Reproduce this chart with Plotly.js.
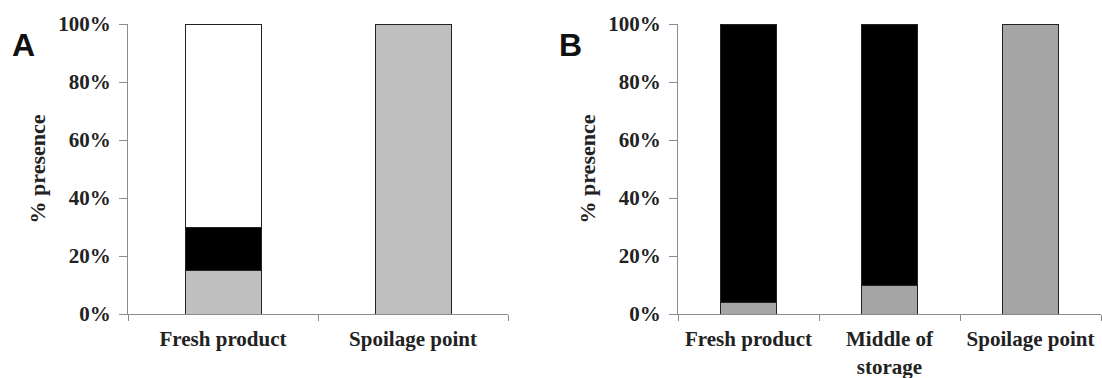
<!DOCTYPE html>
<html><head><meta charset="utf-8">
<script src="https://cdn.plot.ly/plotly-3.0.1.min.js"></script>
<style>body{margin:0;background:#fff}#chart{width:1102px;height:378px}</style>
</head><body><div id="chart"></div>
<script>
// Panel A
var catsA = ["Fresh product", "Spoilage point"];
var grayA = [15, 100];
var blackA = [15, 0];
var whiteA = [70, 0];
// Panel B
var catsB = ["Fresh product", "Middle of<br>storage", "Spoilage point"];
var grayB = [4, 10, 100];
var blackB = [96, 90, 0];
var yTicks = [0, 20, 40, 60, 80, 100];
var yTickText = yTicks.map(function (v) { return v + "%"; });
var panelLabels = ["A", "B"];
var yTitle = "% presence";

var outline = {color: "#222", width: 1};
var traces = [
  {type: "bar", x: catsA, y: grayA, xaxis: "x", yaxis: "y", marker: {color: "#bfbfbf", line: outline}, width: 0.4},
  {type: "bar", x: catsA, y: blackA, xaxis: "x", yaxis: "y", marker: {color: "#000000", line: outline}, width: 0.4},
  {type: "bar", x: catsA, y: whiteA, xaxis: "x", yaxis: "y", marker: {color: "#ffffff", line: outline}, width: 0.4},
  {type: "bar", x: catsB, y: grayB, xaxis: "x2", yaxis: "y2", marker: {color: "#a5a5a5", line: outline}, width: 0.4},
  {type: "bar", x: catsB, y: blackB, xaxis: "x2", yaxis: "y2", marker: {color: "#000000", line: outline}, width: 0.4}
];

var tickFont = {family: "Liberation Serif", size: 21, color: "#222", weight: "bold"};
var yDom = [1 - 314/378, 1 - 24/378];
function xAx(dom, n) {
  return {domain: dom, range: [-0.5, n - 0.5], type: "category", showline: true, linecolor: "#8c8c8c", linewidth: 1,
    ticks: "outside", tickson: "boundaries", ticklen: 6, tickcolor: "#8c8c8c", tickfont: tickFont, showgrid: false,
    zeroline: false, fixedrange: true, ticklabelstandoff: 6};
}
function yAx(dom, anchor) {
  return {domain: dom, anchor: anchor, range: [0, 100], tickmode: "array", tickvals: yTicks, ticktext: yTickText, showline: true,
    linecolor: "#8c8c8c", linewidth: 1, ticks: "outside", ticklen: 8, tickcolor: "#8c8c8c", tickfont: tickFont,
    showgrid: false, zeroline: false, ticklabelstandoff: 4,
    title: {text: yTitle, font: {family: "Liberation Serif", size: 22, color: "#222", weight: "bold"}, standoff: 6}};
}

var layout = {
  width: 1102, height: 378, margin: {l: 0, r: 0, t: 0, b: 0},
  paper_bgcolor: "#fff", plot_bgcolor: "#fff", barmode: "stack", showlegend: false,
  xaxis: Object.assign(xAx([128/1102, 508/1102], 2), {anchor: "y"}),
  yaxis: yAx(yDom, "x"),
  xaxis2: Object.assign(xAx([678/1102, 1101/1102], 3), {anchor: "y2"}),
  yaxis2: yAx(yDom, "x2"),
  annotations: [
    {text: panelLabels[0], xref: "paper", yref: "paper", x: 10/1102, y: 1 - 45/378, xanchor: "left", yanchor: "middle", showarrow: false,
     font: {family: "Liberation Sans", size: 32, color: "#111", weight: "bold"}},
    {text: panelLabels[1], xref: "paper", yref: "paper", x: 557/1102, y: 1 - 45/378, xanchor: "left", yanchor: "middle", showarrow: false,
     font: {family: "Liberation Sans", size: 32, color: "#111", weight: "bold"}}
  ]
};
Plotly.newPlot("chart", traces, layout, {staticPlot: true, displayModeBar: false});
</script></body></html>
